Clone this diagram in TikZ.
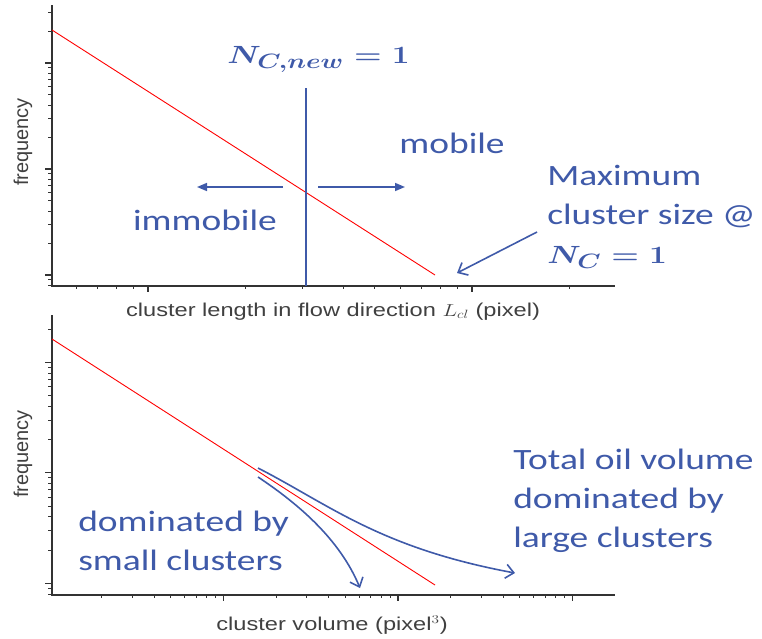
\documentclass[tikz,border=0pt]{standalone}
\usepackage[no-math]{fontspec}
\setmainfont{Liberation Sans}
\newfontfamily\calloutfont{Carlito}
\usepackage{amsmath}
\usetikzlibrary{arrows.meta}
\definecolor{calloutBlue}{HTML}{3F5AA9}
\definecolor{axisGray}{HTML}{333333}
\tikzset{
  axis/.style={draw=axisGray, line width=1.4pt},
  majortick/.style={draw=axisGray, line width=1.2pt},
  minortick/.style={draw=axisGray, line width=1pt},
  fitline/.style={draw=red, line width=0.9pt},
  cut/.style={draw=calloutBlue, line width=1.8pt},
  shiftarrow/.style={draw=calloutBlue, line width=1.6pt, -{Triangle[length=10pt,width=8pt]}},
  calloutarrow/.style={draw=calloutBlue, line width=1.6pt, -{Straight Barb[length=8pt,width=14pt]}},
  note/.style={text=calloutBlue, font=\calloutfont\fontsize{29.5}{39}\selectfont, xscale=1.27, inner sep=0pt, align=left},
  axislabel/.style={text=black!75, font=\fontsize{18.6}{22}\selectfont, xscale=1.27, inner sep=0pt},
  freqlabel/.style={text=black!75, font=\fontsize{20}{24}\selectfont, rotate=90, inner sep=0pt}
}

\begin{document}
\begin{tikzpicture}[x=1pt, y=-1pt]
  \useasboundingbox (0,0) rectangle (762,638);

  % length distribution
  \draw[axis] (52,5) -- (52,286) -- (615,286);
  \begin{scope}
    \clip (40,5) rectangle (52,288);
    \foreach \d in {0,...,3} {
      \draw[majortick] (52,{381-106*\d}) -- ++(-7,0);
      \foreach \m in {2,...,9}
        \draw[minortick] (52,{381-106*\d-106*log10(\m)}) -- ++(-4,0);
    }
  \end{scope}
  \begin{scope}
    \clip (52,286) rectangle (615,296);
    \foreach \d in {-1,0,1} {
      \draw[majortick] ({148+324*\d},286) -- ++(0,6);
      \foreach \m in {2,...,9}
        \draw[minortick] ({148+324*\d+324*log10(\m)},286) -- ++(0,3);
    }
  \end{scope}
  \draw[fitline] (52,30) -- (435,275);

  \node[freqlabel] (freqtop) at (23,142) {frequency};
  \node[axislabel, anchor=base] (lenlabel) at (333,316) {cluster length in flow direction $L_{cl}$ (pixel)};

  \coordinate (cut-top) at (306,88);
  \coordinate (cut-bottom) at (306,286);
  \coordinate (mob-from) at (318,187);
  \coordinate (mob-to) at (405,187);
  \coordinate (imm-from) at (283,187);
  \coordinate (imm-to) at (197,187);
  \coordinate (max-from) at (537,232);
  \coordinate (max-to) at (457,273);

  \node[note, anchor=base west] (ncnew) at (227,63) {{\fontsize{32}{38}\selectfont\boldmath$N_{C,new} = 1$}};
  \node[note, anchor=base] (mobile) at (452,153) {mobile};
  \node[note, anchor=base] (immobile) at (205,230) {immobile};
  \node[note, anchor=base west] (maxsize) at (547,263) {Maximum\\cluster size @\\{\fontsize{32}{38}\selectfont\boldmath$N_C = 1$}};

  \draw[cut] (cut-top) -- (cut-bottom);
  \draw[shiftarrow] (mob-from) -- (mob-to);
  \draw[shiftarrow] (imm-from) -- (imm-to);
  \draw[calloutarrow] (max-from) -- (max-to);

  % volume distribution
  \draw[axis] (52,315) -- (52,595) -- (615,595);
  \begin{scope}
    \clip (40,315) rectangle (52,597);
    \foreach \d in {-1,...,2} {
      \draw[majortick] (52,{583.3-110.5*\d}) -- ++(-7,0);
      \foreach \m in {2,...,9}
        \draw[minortick] (52,{583.3-110.5*\d-110.5*log10(\m)}) -- ++(-4,0);
    }
  \end{scope}
  \begin{scope}
    \clip (52,595) rectangle (615,605);
    \foreach \d in {0,...,3} {
      \draw[majortick] ({49+174.5*\d},595) -- ++(0,6);
      \foreach \m in {2,...,9}
        \draw[minortick] ({49+174.5*\d+174.5*log10(\m)},595) -- ++(0,3);
    }
  \end{scope}
  \draw[fitline] (52,339) -- (435,585);

  \node[freqlabel] (freqbot) at (23,454) {frequency};
  \node[axislabel, anchor=base] (vollabel) at (332,630) {cluster volume (pixel$^3$)};

  \coordinate (large-from) at (258,468);
  \coordinate (large-to) at (515,573);
  \coordinate (small-from) at (258,477);
  \coordinate (small-to) at (360,588);

  \node[note, anchor=base west] (smallcl) at (78,570) {dominated by\\small clusters};
  \node[note, anchor=base west] (largecl) at (513,547) {Total oil volume\\dominated by\\large clusters};

  \draw[calloutarrow] (large-from) .. controls (330,505) and (380,548) .. (large-to);
  \draw[calloutarrow] (small-from) .. controls (300,505) and (340,540) .. (small-to);
\end{tikzpicture}
\end{document}
